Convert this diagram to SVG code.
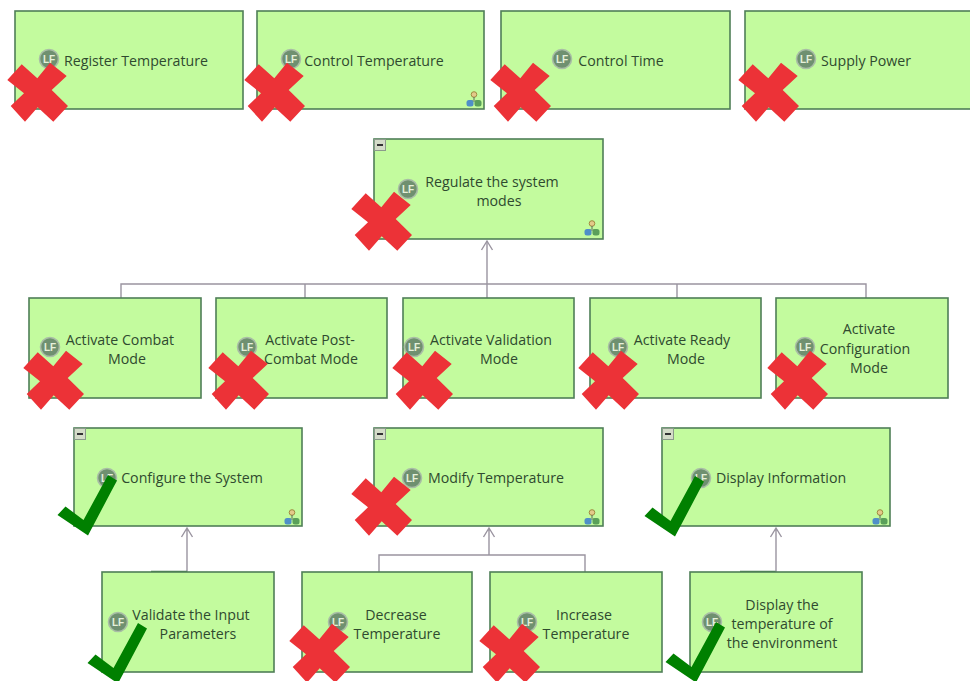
<svg xmlns="http://www.w3.org/2000/svg" width="970" height="681" viewBox="0 0 970 681">
<style>
.n{fill:#c3fb9e;stroke:#4f7f57;stroke-width:1.6}
.t{font-family:"Open Sans","Liberation Sans",sans-serif;font-size:14.2px;fill:#2f4a2f;text-anchor:middle}
.c{fill:none;stroke:#9a94a0;stroke-width:1.4}
.d{fill:none;stroke:#4f7f57;stroke-width:1.6}
.i{fill:#6f9070;stroke:#a9bda6;stroke-width:1.6}
.l{font-family:"Liberation Sans",sans-serif;font-size:10px;font-weight:bold;fill:#e6f0dc;text-anchor:middle}
.b{fill:#d4dcc8;stroke:#8b9a8b}
.x{fill:#ec3237}
.v{fill:#008000}
</style>
<defs>
<g id="lf"><circle r="9.5" class="i"/><text class="l" y="3.5">LF</text></g>
<g id="min"><rect width="11" height="11" x="0.5" y="0.5" class="b"/><rect x="3" y="5" width="6" height="2" fill="#333"/></g>
<g id="h"><circle cx="8" cy="3.500" r="2.800" fill="#e3c98a" stroke="#a08a40" stroke-width="1"/><path d="M8 6V9M4 10H12" stroke="#5a6a5a" stroke-width="1" fill="none"/><rect x="0.500" y="9" width="7" height="6.500" rx="2.500" fill="#4f8fc8"/><rect x="8.500" y="9" width="7" height="6.500" rx="2.500" fill="#5aa05a"/></g>
<polygon id="cross" class="x" points="7.3,80 21.7,64.3 37.3,78.3 50,62.7 66.7,76 51.7,90 68,106 53.3,121.7 37.7,107.3 25,121.7 10.7,106 24,93.3"/>
<polygon id="check" class="v" points="57.500,515 65.500,506.500 83.500,520 108,475 117,480.500 88,535.500"/>
</defs>
<rect width="970" height="681" fill="#fff"/>
<g id="connectors">
<path class="c" d="M121 298V284H866V298M305 284V298M487 298V241M677 284V298"/>
<path class="c" d="M481.500 250L487 241L492.500 250"/>
<path class="c" d="M187 572V528M181.500 537L187 528L192.500 537"/>
<path class="d" d="M151 571.500H187M740 571.500H776"/>
<path class="c" d="M379 572V555H585V572M489 555V528M483.500 537L489 528L494.500 537"/>
<path class="c" d="M776 572V528M770.500 537L776 528L781.500 537"/>
</g>
<g id="n1"><rect class="n" x="15" y="11" width="228" height="98"/><use href="#lf" x="49" y="59"/><text class="t" x="136" y="66">Register Temperature</text></g>
<g id="n2"><rect class="n" x="257" y="11" width="227" height="98"/><use href="#lf" x="291" y="59"/><text class="t" x="374" y="66">Control Temperature</text><use href="#h" x="466" y="91"/></g>
<g id="n3"><rect class="n" x="501" y="11" width="229" height="98"/><use href="#lf" x="562" y="59"/><text class="t" x="621" y="66">Control Time</text></g>
<g id="n4"><rect class="n" x="745" y="11" width="226" height="98"/><use href="#lf" x="806" y="59"/><text class="t" x="866" y="66">Supply Power</text></g>
<g id="n5"><rect class="n" x="374" y="139" width="229" height="100"/><use href="#min" x="374" y="139"/><use href="#lf" x="408" y="189"/><text class="t" x="492" y="187">Regulate the system</text><text class="t" x="499" y="206">modes</text><use href="#h" x="584" y="220"/></g>
<g id="n6"><rect class="n" x="29" y="298" width="172" height="100"/><use href="#lf" x="50" y="347"/><text class="t" x="120" y="345">Activate Combat</text><text class="t" x="127" y="364">Mode</text></g>
<g id="n7"><rect class="n" x="216" y="298" width="171" height="100"/><use href="#lf" x="247" y="347"/><text class="t" x="310" y="345">Activate Post-</text><text class="t" x="311" y="364">Combat Mode</text></g>
<g id="n8"><rect class="n" x="403" y="298" width="171" height="100"/><use href="#lf" x="414" y="347"/><text class="t" x="491" y="345">Activate Validation</text><text class="t" x="499" y="364">Mode</text></g>
<g id="n9"><rect class="n" x="590" y="298" width="171" height="100"/><use href="#lf" x="618" y="347"/><text class="t" x="682" y="345">Activate Ready</text><text class="t" x="686" y="364">Mode</text></g>
<g id="n10"><rect class="n" x="776" y="298" width="172" height="100"/><use href="#lf" x="805" y="347"/><text class="t" x="869" y="334">Activate</text><text class="t" x="865" y="354">Configuration</text><text class="t" x="869" y="373">Mode</text></g>
<g id="n11"><rect class="n" x="74" y="428" width="228" height="98"/><use href="#min" x="74" y="428"/><use href="#lf" x="107" y="478"/><text class="t" x="192" y="483">Configure the System</text><use href="#h" x="284" y="509"/></g>
<g id="n12"><rect class="n" x="374" y="428" width="229" height="98"/><use href="#min" x="374" y="428"/><use href="#lf" x="412" y="478"/><text class="t" x="496" y="483">Modify Temperature</text><use href="#h" x="584" y="509"/></g>
<g id="n13"><rect class="n" x="662" y="428" width="228" height="98"/><use href="#min" x="662" y="428"/><use href="#lf" x="701" y="478"/><text class="t" x="781" y="483">Display Information</text><use href="#h" x="872" y="509"/></g>
<g id="n14"><rect class="n" x="102" y="572" width="172" height="100"/><use href="#lf" x="118" y="622"/><text class="t" x="191" y="620">Validate the Input</text><text class="t" x="198" y="639">Parameters</text></g>
<g id="n15"><rect class="n" x="302" y="572" width="170" height="100"/><use href="#lf" x="338" y="622"/><text class="t" x="396" y="620">Decrease</text><text class="t" x="397" y="639">Temperature</text></g>
<g id="n16"><rect class="n" x="490" y="572" width="172" height="100"/><use href="#lf" x="527" y="622"/><text class="t" x="584" y="620">Increase</text><text class="t" x="586" y="639">Temperature</text></g>
<g id="n17"><rect class="n" x="690" y="572" width="172" height="100"/><use href="#lf" x="712" y="622"/><text class="t" x="782" y="610">Display the</text><text class="t" x="782" y="629">temperature of</text><text class="t" x="782" y="648">the environment</text></g>
<g id="marks">
<use href="#cross"/><use href="#cross" x="237"/><use href="#cross" x="483"/><use href="#cross" x="731"/>
<use href="#cross" x="344" y="129"/>
<use href="#cross" x="16" y="288"/><use href="#cross" x="201" y="288"/><use href="#cross" x="385" y="288"/><use href="#cross" x="571" y="288"/><use href="#cross" x="760" y="288"/>
<use href="#cross" x="344" y="414"/><use href="#cross" x="282" y="561"/><use href="#cross" x="472" y="561"/>
<use href="#check"/><use href="#check" x="30" y="148"/><use href="#check" x="587" y="1"/><use href="#check" x="608" y="147"/>
</g>
</svg>
